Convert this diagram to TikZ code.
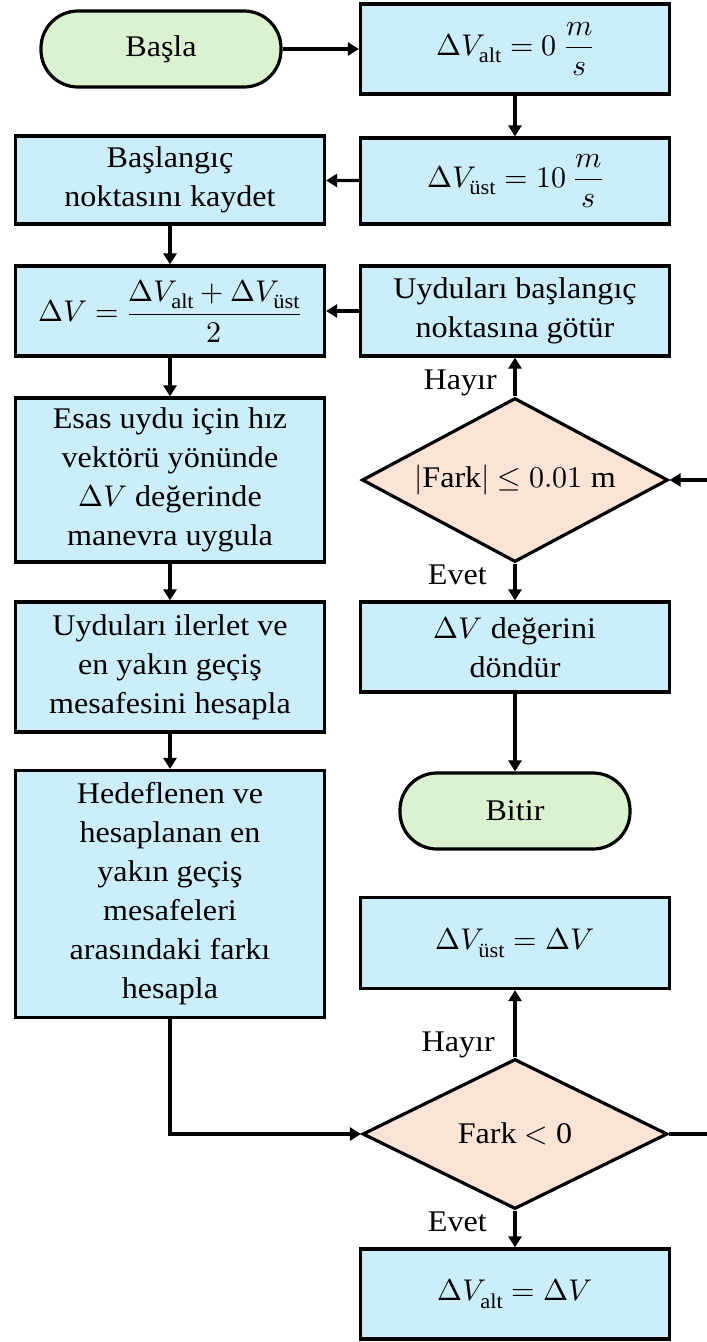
\documentclass[tikz,border=0pt]{standalone}
\usepackage{amsmath}
\usepackage{fontspec}
\usepackage{unicode-math}
\setmainfont{Liberation Serif}[FakeStretch=1.07]
\setmathfont{Latin Modern Math}
\usetikzlibrary{arrows.meta,shapes.geometric}
\definecolor{boxblue}{RGB}{204,238,251}
\definecolor{termgreen}{RGB}{218,242,208}
\definecolor{decpeach}{RGB}{251,227,214}
\newcommand{\bigtext}{\fontsize{30}{39}\selectfont}
\tikzset{
 base/.style={draw=black, line width=3.2pt, font=\bigtext, align=center, inner sep=0pt},
 proc/.style={base, rectangle, fill=boxblue, minimum width=309pt},
 term/.style={base, rectangle, rounded corners=37pt, fill=termgreen},
 dec/.style={base, diamond, fill=decpeach, aspect=1.85},
 declabel/.style={font=\bigtext, inner sep=0pt},
 conn/.style={line width=3.2pt, -{Triangle[length=11pt,width=13pt]}},
 plainline/.style={line width=3.2pt},
 yn/.style={font=\bigtext, anchor=east, inner sep=0pt}
}
\begin{document}
\begin{tikzpicture}[x=1pt,y=-1pt]
\useasboundingbox (0,0) rectangle (707,1342);
\node[term, minimum width=240pt, minimum height=76pt] (start) at (161,49) {Başla};
\node[proc, minimum height=90pt] (valt) at (515,49) {$\Delta V_{\text{alt}} = 0\ \dfrac{m}{s}$};
\node[proc, minimum height=86pt] (vust) at (515,181) {$\Delta V_{\text{üst}} = 10\ \dfrac{m}{s}$};
\node[proc, minimum height=88pt] (kaydet) at (170,180) {Başlangıç\\noktasını kaydet};
\node[proc, minimum height=90pt] (dv) at (170,311) {$\Delta V = \dfrac{\Delta V_{\text{alt}} + \Delta V_{\text{üst}}}{2}$};
\node[proc, minimum height=90pt] (gotur) at (515,311) {Uyduları başlangıç\\noktasına götür};
\node[dec, minimum width=306pt, minimum height=164pt, label={[declabel]center:$|\text{Fark}| \leq 0.01\ \text{m}$}] (d1) at (515,480) {};
\node[proc, minimum height=164pt] (esas) at (170,480) {Esas uydu için hız\\vektörü yönünde\\$\Delta V$ değerinde\\manevra uygula};
\node[proc, minimum height=90pt] (dondur) at (515,647) {$\Delta V$ değerini\\döndür};
\node[term, minimum width=230pt, minimum height=76pt] (bitir) at (515,811) {Bitir};
\node[proc, minimum height=130pt] (ilerlet) at (170,667) {Uyduları ilerlet ve\\en yakın geçiş\\mesafesini hesapla};
\node[proc, minimum height=247pt] (hedef) at (170,894) {Hedeflenen ve\\hesaplanan en\\yakın geçiş\\mesafeleri\\arasındaki farkı\\hesapla};
\node[proc, minimum height=91pt] (vust2) at (515,943) {$\Delta V_{\text{üst}} = \Delta V$};
\node[dec, minimum width=305pt, minimum height=150pt, label={[declabel]center:Fark $<$ 0}] (d2) at (515,1134) {};
\node[proc, minimum height=90pt] (valt2) at (515,1294) {$\Delta V_{\text{alt}} = \Delta V$};
\coordinate (r1) at (712,480);
\coordinate (r2) at (712,1134);
\draw[conn] (start) -- (valt);
\draw[conn] (valt) -- (vust);
\draw[conn] (vust) -- (kaydet);
\draw[conn] (kaydet) -- (dv);
\draw[conn] (gotur) -- (dv);
\draw[conn] (dv) -- (esas);
\draw[conn] (esas) -- (ilerlet);
\draw[conn] (ilerlet) -- (hedef);
\draw[conn] (hedef.south) |- (d2.west);
\draw[conn] (d1) -- (gotur);
\draw[conn] (d1) -- (dondur);
\draw[conn] (dondur) -- (bitir);
\draw[conn] (d2) -- (vust2);
\draw[conn] (d2) -- (valt2);
\draw[conn] (r1) -- (d1.east);
\draw[plainline] (d2.east) -- (r2);
\node[yn] (h1) at (497,383) {Hayır};
\node[yn] (e1) at (487,575) {Evet};
\node[yn] (h2) at (495,1045) {Hayır};
\node[yn] (e2) at (487,1222) {Evet};
\end{tikzpicture}
\end{document}
